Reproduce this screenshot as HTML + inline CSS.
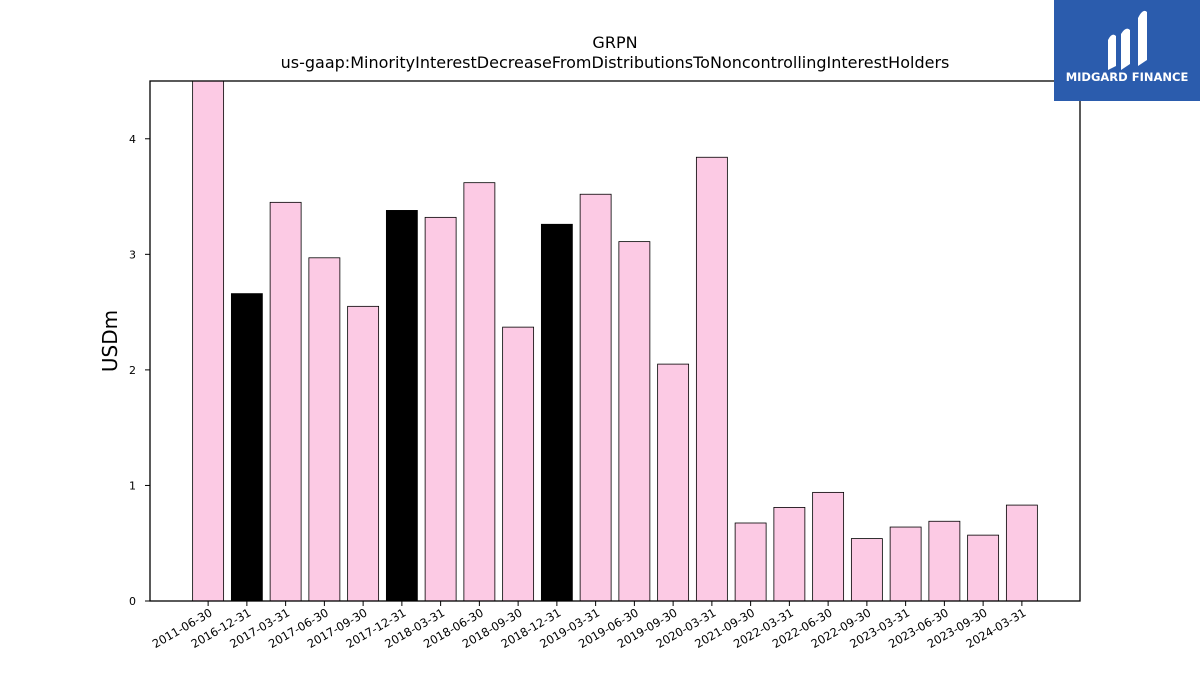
<!DOCTYPE html>
<html><head><meta charset="utf-8"><style>
body{margin:0;background:#fff;}
svg{display:block;font-family:"DejaVu Sans","Liberation Sans",sans-serif;}
</style></head><body>
<svg id="chart" width="1200" height="675">
<text x="615" y="48" text-anchor="middle" font-size="16">GRPN</text>
<text x="615" y="68" text-anchor="middle" font-size="16">us-gaap:MinorityInterestDecreaseFromDistributionsToNoncontrollingInterestHolders</text>
<text transform="translate(117,341) rotate(-90)" text-anchor="middle" font-size="20">USDm</text>
<g id="bars"></g>
<g id="yticks"></g>
<g id="xticks"></g>
<rect x="150" y="81" width="930" height="520" fill="none" stroke="#000" stroke-width="1.3"/>
<g>
<rect x="1054" y="0" width="146" height="101" fill="#2b5cad"/>
<path d="M1108 70 L1108 40 Q1112 32 1116 36 L1116 66 Z M1121 70 L1121 34 Q1126 26 1130 30 L1130 64 Z M1138 66 L1138 18 Q1143 8 1147 12 L1147 60 Z" fill="#fff"/>
<text x="1127" y="81" text-anchor="middle" font-size="11.5" font-weight="bold" fill="#fff">MIDGARD FINANCE</text>
</g>
</svg>
<script>
const categories=["2011-06-30","2016-12-31","2017-03-31","2017-06-30","2017-09-30","2017-12-31","2018-03-31","2018-06-30","2018-09-30","2018-12-31","2019-03-31","2019-06-30","2019-09-30","2020-03-31","2021-09-30","2022-03-31","2022-06-30","2022-09-30","2023-03-31","2023-06-30","2023-09-30","2024-03-31"];
const values=[4.6,2.66,3.45,2.97,2.55,3.38,3.32,3.62,2.37,3.26,3.52,3.11,2.05,3.84,0.675,0.81,0.94,0.54,0.64,0.69,0.57,0.83];
const highlighted=[false,true,false,false,false,true,false,false,false,true,false,false,false,false,false,false,false,false,false,false,false,false];
const yTicks=[0,1,2,3,4];
const NS="http://www.w3.org/2000/svg";
const L=150,R=1080,T=81,B=601,yMax=4.5;
const xStep=(R-L)/(categories.length+2);
function xScale(i){return L+xStep*(i+1.5);}
function yScale(v){return B-(v/yMax)*(B-T);}
const bw=xStep*0.8;
const bars=document.getElementById('bars');
values.forEach((v,i)=>{
  const r=document.createElementNS(NS,'rect');
  const top=Math.max(yScale(v),T);
  r.setAttribute('x',xScale(i)-bw/2);r.setAttribute('y',top);
  r.setAttribute('width',bw);r.setAttribute('height',B-top);
  r.setAttribute('fill',highlighted[i]?'#000':'#fccae4');
  r.setAttribute('stroke','#000');r.setAttribute('stroke-width','0.8');
  
  
  bars.appendChild(r);
});
const yt=document.getElementById('yticks');
yTicks.forEach(t=>{
  const y=yScale(t);
  const l=document.createElementNS(NS,'line');
  l.setAttribute('x1',L-5);l.setAttribute('x2',L);l.setAttribute('y1',y);l.setAttribute('y2',y);l.setAttribute('stroke','#000');
  
  
  yt.appendChild(l);
  const tx=document.createElementNS(NS,'text');
  tx.setAttribute('x',L-14);tx.setAttribute('y',y+4);tx.setAttribute('text-anchor','end');tx.setAttribute('font-size','11');
  tx.textContent=t;
  
  
  yt.appendChild(tx);
});
const xt=document.getElementById('xticks');
categories.forEach((c,i)=>{
  const x=xScale(i);
  const l=document.createElementNS(NS,'line');
  l.setAttribute('x1',x);l.setAttribute('x2',x);l.setAttribute('y1',B);l.setAttribute('y2',B+5);l.setAttribute('stroke','#000');
  
  
  xt.appendChild(l);
  const tx=document.createElementNS(NS,'text');
  tx.setAttribute('transform','translate('+(x+5)+','+(B+14)+') rotate(-30)');
  tx.setAttribute('text-anchor','end');tx.setAttribute('font-size','11.5');
  tx.textContent=c;
  
  
  xt.appendChild(tx);
});
</script>
</body></html>
